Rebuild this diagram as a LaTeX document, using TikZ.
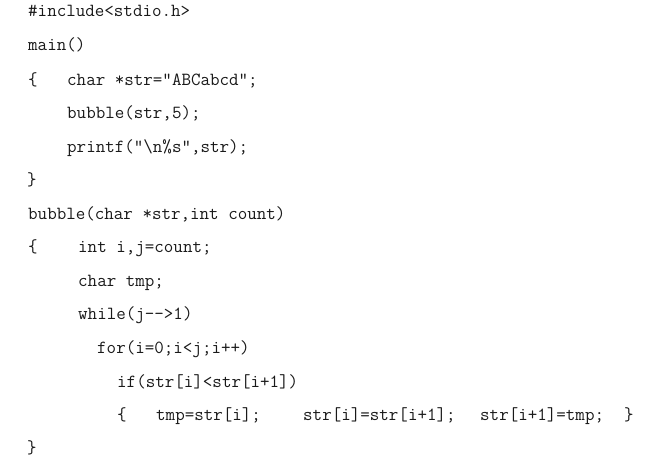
\documentclass[tikz,border=0pt]{standalone}
\usepackage{fontspec}
\usepackage{tikz}
\setmonofont{Latin Modern Mono}
\tikzset{code/.style={anchor=base west,inner sep=0pt,text=black!90,font=\ttfamily\fontsize{18.5}{18.5}\selectfont}}

\begin{document}
\begin{tikzpicture}[line cap=round,line join=round,x=1pt,y=-1pt]
      \useasboundingbox (0,0) rectangle (668,468);
      \node[code] (inc) at (28,17) {\#include<stdio.h>};
      \node[code] (mainfn) at (28,51) {main()};
      \node[code] (lbA) at (28,85) {\{};
      \node[code] (decl) at (67,85) {char *str="ABCabcd";};
      \node[code] (call) at (67,118) {bubble(str,5);};
      \node[code] (prnt) at (67,152) {printf("\textbackslash n\%s",str);};
      \node[code] (rbA) at (27,185) {\}};
      \node[code] (head) at (28,219) {bubble(char *str,int count)};
      \node[code] (lbB) at (28,252) {\{};
      \node[code] (ints) at (78,252) {int i,j=count;};
      \node[code] (tmpdecl) at (78,286) {char tmp;};
      \node[code] (loop) at (78,319) {while(j-->1)};
      \node[code] (forloop) at (97,353) {for(i=0;i<j;i++)};
      \node[code] (ifcmp) at (117,387) {if(str[i]<str[i+1])};
      \node[code] (lbC) at (117,420) {\{};
      \node[code] (swapA) at (156,420) {tmp=str[i];};
      \node[code] (swapB) at (303,420) {str[i]=str[i+1];};
      \node[code] (swapC) at (480,420) {str[i+1]=tmp;};
      \node[code] (rbC) at (624,420) {\}};
      \node[code] (rbB) at (27,453) {\}};
\end{tikzpicture}
\end{document}
